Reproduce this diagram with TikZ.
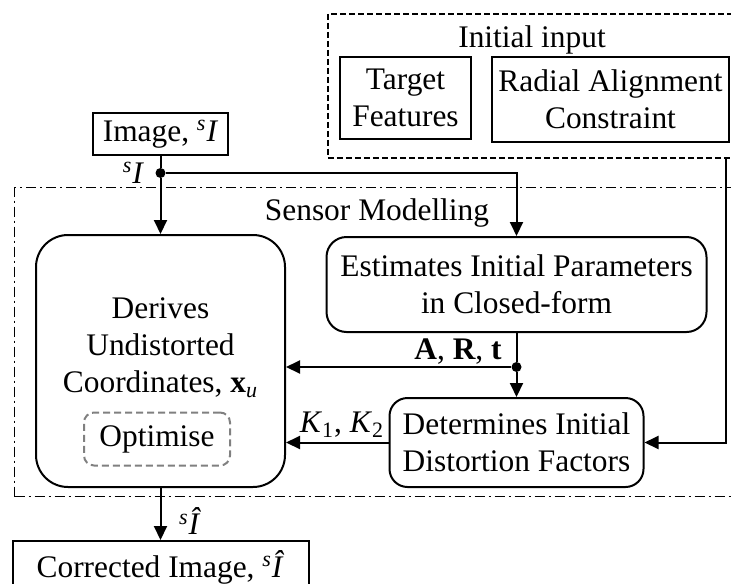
\documentclass[tikz,border=0pt]{standalone}
\usepackage{fontspec}
\setmainfont{Liberation Serif}
\usetikzlibrary{arrows.meta, positioning}

\begin{document}
\begin{tikzpicture}[
        x=0.5pt, y=-0.5pt,
        font=\fontsize{15.7}{18.5}\selectfont,
        box/.style={rectangle, draw, line width=1pt, align=center, inner sep=0pt},
        rbox/.style={box, rounded corners=10pt},
        grp/.style={rectangle, draw, line width=0.8pt, inner sep=0pt},
        arr/.style={-{Triangle[length=7pt, width=6.5pt]}, line width=1pt},
        dot/.style={circle, fill, inner sep=0pt, minimum size=5pt},
    ]
    \useasboundingbox (0,0) rectangle (731,583);
    % groups
    \node[grp, dash pattern=on 3pt off 1.5pt, minimum width=211.5pt, minimum height=72pt,
          anchor=north west] (input) at (327,13) {};
    \node[grp, line width=0.7pt, dash pattern=on 5pt off 2pt on 1pt off 2pt,
          minimum width=368pt, minimum height=154.5pt, anchor=north west] (sensor) at (14,187) {};
    \node (inputlbl) at (532,40) {Initial input};
    \node (sensorlbl) at (377,213) {Sensor Modelling};
    % blocks
    \node[box, minimum width=65.5pt, minimum height=41pt] (target) at (405.5,98) {Target\\Features};
    \node[box, minimum width=118.5pt, minimum height=42.5pt] (radial) at (610.5,99.5) {Radial Alignment\\Constraint};
    \node[box, minimum width=67.5pt, minimum height=21pt] (image) at (160.5,134)
        {Image, \textsuperscript{\textit{s}}\textit{I}};
    \node[rbox, rounded corners=16pt, minimum width=124.5pt, minimum height=126pt] (derives) at (160.5,361) {};
    \node[align=center] (derivestxt) at (160.5,348)
        {Derives\\Undistorted\\Coordinates, \textbf{x}\textsubscript{\textit{u}}};
    \node[rbox, draw=gray, dash pattern=on 3.5pt off 2pt, rounded corners=5pt,
          minimum width=73pt, minimum height=26.5pt] (optimise) at (157,439) {Optimise};
    \node[rbox, minimum width=190pt, minimum height=47.5pt] (estimates) at (516.5,284.5)
        {Estimates Initial Parameters\\in Closed-form};
    \node[rbox, rounded corners=9pt, minimum width=127pt, minimum height=44.5pt] (determines) at (516.5,442.5)
        {Determines Initial\\Distortion Factors};
    \node[box, minimum width=148pt, minimum height=26pt, anchor=north] (corrected) at (160.5,540)
        {Corrected Image, \textsuperscript{\textit{s}}\textit{\^I}};
    % junctions
    \node[dot] (jimg) at (160.5,173) {};
    \node[dot] (jest) at (516.5,367) {};
    \coordinate (rtop) at (726,157);
    % connectors
    \draw[line width=1pt] (image) -- (jimg);
    \draw[arr] (jimg) -- (derives);
    \draw[arr] (jimg) -| (estimates);
    \draw[line width=1pt] (estimates) -- (jest);
    \draw[arr] (jest) -- (jest -| derives.east);
    \draw[arr] (jest) -- (determines);
    \draw[arr] (determines) -- (determines -| derives.east);
    \draw[arr] (rtop) |- (determines);
    \draw[arr] (derives) -- (corrected);
    % signal labels
    \node[left=2pt of jimg] (simg) {\textsuperscript{\textit{s}}\textit{I}};
    \node (artlbl) at (458,352) {\textbf{A}, \textbf{R}, \textbf{t}};
    \node (klbl) at (342,425) {\textit{K}\textsubscript{1}, \textit{K}\textsubscript{2}};
    \node (shat) at (190,521) {\textsuperscript{\textit{s}}\textit{\^I}};
\end{tikzpicture}
\end{document}
